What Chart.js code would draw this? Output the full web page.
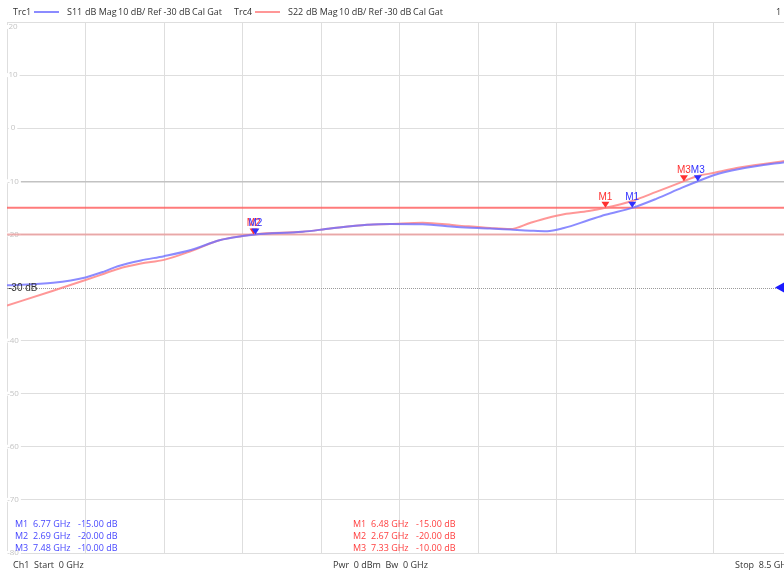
<!DOCTYPE html>
<html>
<head>
<meta charset="utf-8">
<script src="https://cdn.jsdelivr.net/npm/chart.js@4"></script>
<style>
  html, body { margin: 0; padding: 0; background: #fff; overflow: hidden; }
  #wrap { width: 800px; height: 574px; }
</style>
</head>
<body>
<div id="wrap"><canvas id="myChart" width="800" height="574"></canvas></div>
<script>
// frequency points (GHz)
var freqs = [0, 0.5, 0.85, 1.05, 1.2, 1.45, 1.7, 2.0, 2.3, 2.55, 2.69, 3.2, 3.5, 3.9, 4.15, 4.5, 4.87, 5.23, 5.45, 5.67, 5.85, 6.03, 6.3, 6.48, 6.77, 7.03, 7.31, 7.48, 7.66, 7.93, 8.5];
var s11 = [-29.6, -29.1, -28.1, -27.0, -26.0, -24.9, -24.1, -22.9, -21.1, -20.3, -20.0, -19.5, -18.9, -18.2, -18.05, -18.1, -18.6, -18.9, -19.1, -19.3, -19.4, -18.8, -17.3, -16.3, -15.0, -13.3, -11.2, -10.0, -8.8, -7.7, -6.2];
var s22 = [-33.4, -30.6, -28.6, -27.4, -26.5, -25.5, -24.8, -23.1, -21.1, -20.3, -19.95, -19.5, -18.9, -18.2, -18.05, -17.8, -18.3, -18.8, -19.0, -17.8, -16.9, -16.2, -15.6, -15.0, -13.7, -12.0, -10.1, -9.0, -8.4, -7.4, -6.0];

var limitLines = [-15, -20];
var refLevel = -30;

var markerNames = ['M1', 'M2', 'M3'];
var s11MarkerFreq = [6.77, 2.69, 7.48];
var s11MarkerVal = [-15, -20, -10];
var s22MarkerFreq = [6.48, 2.67, 7.33];
var s22MarkerVal = [-15, -20, -10];

var yTicks = [20, 10, 0, -10, -20, -30, -40, -50, -60, -70, -80];

var blue = 'rgba(110,110,255,0.8)';
var red = 'rgba(255,125,125,0.8)';
var FONT = '"Open Sans", "DejaVu Sans", sans-serif';

function pts(ys) {
  return freqs.map(function(f, i) { return {x: f, y: ys[i]}; });
}

function limitDs(v, color, w) {
  return {
    data: [{x: 0, y: v}, {x: 8.5, y: v}],
    borderColor: color, borderWidth: w, pointRadius: 0
  };
}

var overlay = {
  id: 'overlay',
  beforeDatasetsDraw: function(chart) {
    var ctx = chart.ctx, ys = chart.scales.y, area = chart.chartArea;
    ctx.save();
    // dotted reference line
    var yr = Math.round(ys.getPixelForValue(refLevel)) + 0.5;
    ctx.strokeStyle = '#9a9a9a';
    ctx.lineWidth = 1;
    ctx.setLineDash([1, 1]);
    ctx.beginPath(); ctx.moveTo(area.left, yr); ctx.lineTo(area.right, yr); ctx.stroke();
    ctx.setLineDash([]);
    // y labels inside the grid
    ctx.font = '8px ' + FONT;
    ctx.textAlign = 'center';
    ctx.textBaseline = 'middle';
    yTicks.forEach(function(v) {
      if (v === refLevel) return;
      var y = ys.getPixelForValue(v);
      if (v === 20) y += 5;
      var w = ctx.measureText(String(v)).width;
      ctx.fillStyle = '#fff';
      ctx.fillRect(13 - w / 2 - 2, y - 2, w + 4, 4);
      ctx.fillStyle = '#c4c4c4';
      ctx.fillText(String(v), 13, y);
    });
    ctx.restore();
  },
  afterDatasetsDraw: function(chart) {
    var ctx = chart.ctx, xs = chart.scales.x, ys = chart.scales.y;
    ctx.save();
    // markers
    function drawMarkers(fs, vs, color) {
      fs.forEach(function(f, i) {
        var x = xs.getPixelForValue(f), y = ys.getPixelForValue(vs[i]);
        ctx.fillStyle = color;
        ctx.beginPath();
        ctx.moveTo(x, y);
        ctx.lineTo(x - 4, y - 6);
        ctx.lineTo(x + 4, y - 6);
        ctx.closePath();
        ctx.fill();
        ctx.font = '10px "Liberation Sans", sans-serif';
        ctx.textAlign = 'center';
        ctx.textBaseline = 'bottom';
        ctx.fillText(markerNames[i], x, y - 6);
      });
    }
    drawMarkers(s22MarkerFreq, s22MarkerVal, '#ff3030');
    drawMarkers(s11MarkerFreq, s11MarkerVal, '#3030ff');

    // reference label and arrow
    var yr = ys.getPixelForValue(refLevel);
    ctx.font = '10px "Liberation Sans", sans-serif';
    ctx.textAlign = 'left';
    ctx.textBaseline = 'middle';
    ctx.fillStyle = '#333';
    ctx.fillText(refLevel + ' dB', 8, yr + 1);
    ctx.fillStyle = '#1a1aff';
    ctx.beginPath();
    ctx.moveTo(775, yr);
    ctx.lineTo(784, yr - 5);
    ctx.lineTo(784, yr + 5);
    ctx.closePath();
    ctx.fill();

    // header
    ctx.font = '9px ' + FONT;
    ctx.fillStyle = '#333';
    function header(x0, trc, param) {
      ctx.fillText(trc, x0, 12);
      ctx.fillText(param, x0 + 54, 12);
      ctx.fillText('dB Mag', x0 + 72, 12);
      ctx.fillText('10 dB/ Ref -30 dB', x0 + 105, 12);
      ctx.fillText('Cal Gat', x0 + 179, 12);
    }
    header(13, 'Trc1', 'S11');
    header(234, 'Trc4', 'S22');
    ctx.fillText('1', 776, 12);
    ctx.lineWidth = 2;
    ctx.strokeStyle = blue;
    ctx.beginPath(); ctx.moveTo(34, 12); ctx.lineTo(59, 12); ctx.stroke();
    ctx.strokeStyle = red;
    ctx.beginPath(); ctx.moveTo(255, 12); ctx.lineTo(280, 12); ctx.stroke();

    // marker tables
    function table(x, fs, vs, color) {
      ctx.fillStyle = color;
      ctx.font = '9px ' + FONT;
      fs.forEach(function(f, i) {
        var y = 524 + i * 12;
        ctx.fillText(markerNames[i], x, y);
        ctx.fillText(f.toFixed(2) + ' GHz', x + 18, y);
        ctx.fillText(vs[i].toFixed(2) + ' dB', x + 63, y);
      });
    }
    table(15, s11MarkerFreq, s11MarkerVal, '#4848ff');
    table(353, s22MarkerFreq, s22MarkerVal, '#ff4040');

    // footer
    ctx.fillStyle = '#333';
    ctx.font = '9px ' + FONT;
    ctx.fillText('Ch1  Start  0 GHz', 13, 565);
    ctx.fillText('Pwr  0 dBm  Bw  0 GHz', 333, 565);
    ctx.fillText('Stop  8.5 GHz', 735, 565);
    ctx.restore();
  }
};

new Chart(document.getElementById('myChart'), {
  type: 'line',
  data: {
    datasets: [
      {data: pts(s11), borderColor: blue, borderWidth: 2, pointRadius: 0, cubicInterpolationMode: 'monotone'},
      {data: pts(s22), borderColor: red, borderWidth: 2, pointRadius: 0, cubicInterpolationMode: 'monotone'},
      limitDs(limitLines[0], 'rgba(255,90,90,0.8)', 2),
      limitDs(limitLines[1], 'rgba(235,150,150,0.75)', 2)
    ]
  },
  options: {
    responsive: false,
    animation: false,
    devicePixelRatio: 1,
    layout: {padding: {left: 7, top: 22, right: 8, bottom: 21}},
    plugins: {legend: {display: false}, tooltip: {enabled: false}},
    scales: {
      x: {
        type: 'linear', min: 0, max: 8.5,
        afterBuildTicks: function(scale) {
          var t = [];
          for (var i = 0; i <= 10; i++) t.push({value: i * 0.85});
          scale.ticks = t;
        },
        ticks: {display: false},
        grid: {color: '#dedede', drawTicks: false, lineWidth: 1},
        border: {color: '#dedede'}
      },
      y: {
        min: -80, max: 20,
        ticks: {display: false, stepSize: 10},
        grid: {
          drawTicks: false,
          color: function(c) {
            var v = c.tick && c.tick.value;
            if (v === refLevel) return 'rgba(0,0,0,0)';
            if (v === -10) return '#c2c2c2';
            return '#dedede';
          },
          lineWidth: function(c) { return (c.tick && c.tick.value === -10) ? 1.5 : 1; }
        },
        border: {color: '#dedede'}
      }
    }
  },
  plugins: [overlay]
});
</script>
</body>
</html>
